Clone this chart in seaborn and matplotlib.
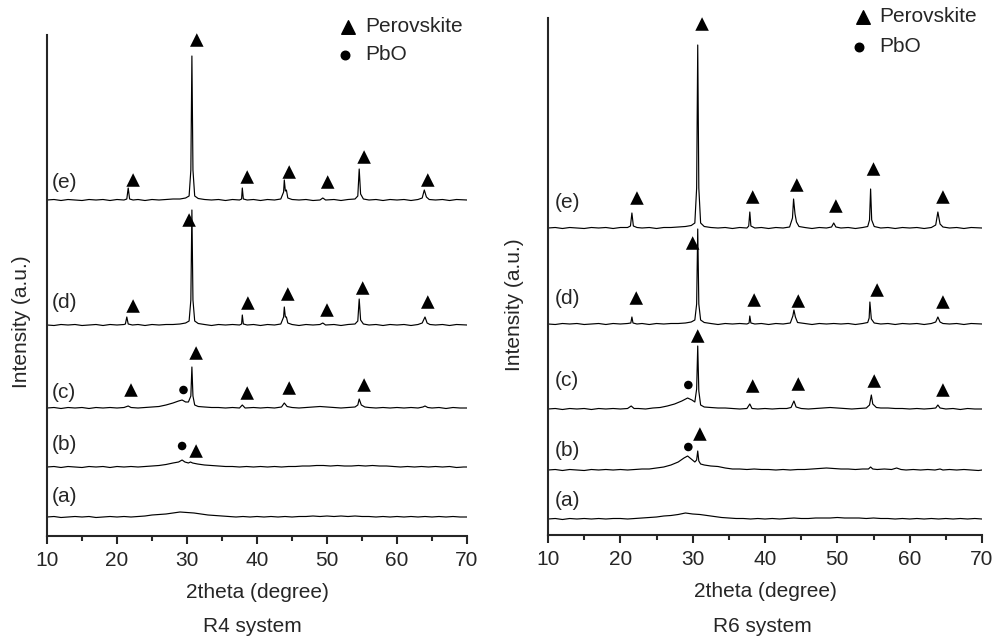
import matplotlib
matplotlib.use("Agg")
import matplotlib.pyplot as plt
import pandas as pd
import seaborn as sns

SAMPLE_LABELS = ["(a)", "(b)", "(c)", "(d)", "(e)"]

# stacking offsets of the five patterns (a)..(e)
R4_OFFSETS = [19, 69, 128, 211, 336]
R6_OFFSETS = [16, 65, 126, 211, 307]

# (2theta, intensity), R4 system
R4_A = [(10, 0), (11, 0.5), (12, -0.5), (13, 0), (14, 0.5), (15, 0), (16, 0.5), (17, -0.5), (18, 0), (19, 0.5),
        (20, 0), (21, 0.5), (22, 0), (23, 0.5), (24, 1), (25, 2), (26, 2.5), (27, 3), (28, 4), (29, 5), (30, 4.5),
        (31, 4), (32, 3), (33, 2), (34, 1.5), (35, 1), (36, 0.5), (37, 0), (38, 0.5), (39, 0), (40, 0.5), (41, 0),
        (42, 0.5), (43, 0), (44, 0.5), (45, 0), (46, 0.5), (47, 0.5), (48, 1), (49, 0.5), (50, 1), (51, 0.5),
        (52, 1), (53, 0.5), (54, 1), (55, 0.5), (56, 0.5), (57, 0), (58, 0.5), (59, 0), (60, 0.5), (61, 0),
        (62, 0.5), (63, 0), (64, 0.5), (65, 0), (66, 0.5), (67, 0), (68, 0.5), (69, 0), (70, 0)]
R4_B = [(10, 0), (11, 0.5), (12, -0.5), (13, 0.5), (14, 0), (15, -0.5), (16, 0.5), (17, 0), (18, 0.5), (19, -0.5),
        (20, 0.5), (21, 0), (22, 0.5), (23, 0), (24, 0.5), (25, 1), (26, 1.5), (27, 2.5), (28, 4), (28.8, 5),
        (29.3, 7), (29.7, 5), (30.2, 4), (30.5, 5), (30.8, 4), (31.5, 3), (32.5, 2), (33.5, 1.5), (34.5, 1),
        (35.5, 0.5), (36.5, 0.5), (37.5, 0), (38.5, 0.5), (39.5, 0), (40.5, 0.5), (41.5, 0), (42.5, 0.5), (43.5, 0),
        (44.5, 0.5), (45.5, 0.5), (46.5, 1), (47.5, 1), (48.5, 1.5), (49.5, 1.5), (50.5, 1), (51.5, 1.5), (52.5, 1),
        (53.5, 1), (54.5, 1.5), (55.5, 1), (56.5, 1.5), (57.5, 1), (58.5, 1), (59.5, 0.5), (60.5, 0), (61.5, 0.5),
        (62.5, 0), (63.5, 0.5), (64.5, 0), (65.5, 0.5), (66.5, 0), (67.5, 0.5), (68.5, -0.5), (69.5, 0), (70, 0)]
R4_C = [(10, 0), (11, 0.5), (12, -0.5), (13, 0.5), (14, 0), (15, 0.5), (16, -0.5), (17, 0.5), (18, 0), (19, 0.5),
        (20, 0), (21, 0.5), (21.6, 2), (22, 0.5), (23, 0), (24, 0.5), (25, 1), (26, 1.5), (27, 3), (28, 5),
        (28.8, 7), (29.3, 8), (29.8, 6), (30.2, 6), (30.55, 12), (30.7, 41), (30.85, 12), (31.1, 3), (31.6, 1.5),
        (32.5, 1), (33.5, 0.5), (34.5, 0.5), (35.5, 0), (36.5, 0.5), (37.5, 0), (37.9, 3), (38.3, 0), (39.5, 0.5),
        (40.5, 0), (41.5, 0.5), (42.5, 0), (43.5, 1), (43.9, 5), (44.3, 1.5), (45, 0.5), (46, 0), (47, 0.5),
        (48, 1), (49, 1.5), (50, 1), (51, 0.5), (52, 0), (53, 0.5), (54, 1), (54.4, 3), (54.6, 9), (54.9, 3),
        (55.4, 1), (56, 0.5), (57, 0), (58, 0.5), (59, 0), (60, 0.5), (61, 0), (62, 0.5), (63, 0), (63.7, 1),
        (64, 2), (64.4, 0.5), (65, 0), (66, 0.5), (67, -0.5), (68, 0.5), (69, 0), (70, 0)]
R4_D = [(10, 0), (11, -0.5), (12, 0.5), (13, 0), (14, 0.5), (15, -0.5), (16, 0), (17, 0.5), (18, -0.5), (19, 0.5),
        (20, 0), (21, 0.5), (21.2, 1), (21.4, 8), (21.6, 1), (22.2, 0), (23, 0.5), (24, -0.5), (25, 0.5), (26, 0),
        (27, 0.5), (28, 0.5), (29, 1), (29.8, 2), (30.3, 4), (30.55, 25), (30.7, 115), (30.85, 25), (31.1, 4),
        (31.6, 1.5), (32.5, 0.5), (33.5, -0.5), (34.5, 0.5), (35.5, 0), (36.5, 0.5), (37.5, 0), (37.8, 1),
        (37.9, 10), (38.05, 1), (38.6, 0), (39.5, 0.5), (40.5, -0.5), (41.5, 0.5), (42.5, 0), (43.4, 1), (43.8, 8),
        (43.9, 18), (44.05, 8), (44.2, 8), (44.4, 2), (45, 0.5), (46, -0.5), (47, 0.5), (48, 0), (49, 0.5),
        (49.4, 2), (49.8, 0), (51, 0.5), (52, -0.5), (53, 0.5), (54, 1), (54.4, 4), (54.6, 26), (54.8, 5),
        (55.2, 1), (56, 0), (57, 0.5), (58, -0.5), (59, 0.5), (60, 0), (61, 0.5), (62, -0.5), (63, 0.5),
        (63.6, 2), (64.0, 8), (64.3, 2), (64.7, 0.5), (65.5, 0), (66.5, 0.5), (67.5, -0.5), (68.5, 0.5), (70, 0)]
R4_E = [(10, 0), (11, 0.5), (12, -0.5), (13, 0.5), (14, 0), (15, -0.5), (16, 0.5), (17, 0), (18, 0.5), (19, -0.5),
        (20, 0.5), (21, 0), (21.4, 1), (21.6, 12), (21.8, 1), (22.3, 0), (23, 0.5), (24, -0.5), (25, 0.5), (26, 0),
        (27, 0.5), (28, 1), (29, 1), (29.8, 2), (30.3, 4), (30.55, 30), (30.7, 144), (30.85, 30), (31.1, 4),
        (31.6, 1.5), (32.5, 0.5), (33.5, 0), (34.5, 0.5), (35.5, -0.5), (36.5, 0.5), (37.5, 0), (37.8, 1),
        (37.9, 12), (38.05, 1), (38.6, 0), (39.5, 0.5), (40.5, -0.5), (41.5, 0.5), (42.5, 0), (43.4, 1), (43.8, 8),
        (43.9, 20), (44.05, 9), (44.2, 10), (44.4, 2), (45, 0.5), (46, 0), (47, 0.5), (48, -0.5), (49, 0),
        (49.4, 2), (49.8, 0), (51, 0.5), (52, -0.5), (53, 0.5), (54, 1), (54.4, 4), (54.6, 31), (54.8, 6),
        (55.2, 1), (56, 0), (57, 0.5), (58, -0.5), (59, 0.5), (60, 0), (61, 0.5), (62, -0.5), (63, 0.5),
        (63.6, 2), (63.9, 10), (64.2, 3), (64.6, 0.5), (65.5, 0), (66.5, 0.5), (67.5, -0.5), (68.5, 0.5), (70, 0)]

# R6 system
R6_A = [(10, 0), (11, 0.5), (12, -0.5), (13, 0.5), (14, 0), (15, 0.5), (16, 0), (17, 0.5), (18, 0), (19, 0.5),
        (20, 0.5), (21, 0), (22, 0.5), (23, 1), (24, 1.5), (25, 2), (26, 3), (27, 3.5), (28, 4.5), (29, 6),
        (30, 5), (31, 4.5), (32, 3.5), (33, 2.5), (34, 1.5), (35, 1), (36, 0.5), (37, 0.5), (38, 0), (39, 0.5),
        (40, 0), (41, 0.5), (42, 0), (43, 0.5), (44, 1), (45, 0.5), (46, 0.5), (47, 1), (48, 1), (49, 1),
        (50, 1.5), (51, 1), (52, 1), (53, 1), (54, 0.5), (55, 1), (56, 0.5), (57, 0.5), (58, 0), (59, 0.5),
        (60, 0), (61, 0.5), (62, 0), (63, 0.5), (64, 0), (65, 0.5), (66, 0), (67, 0.5), (68, 0), (69, 0.5), (70, 0)]
R6_B = [(10, 0), (11, 0.5), (12, -0.5), (13, 0.5), (14, 0), (15, -0.5), (16, 0.5), (17, 0), (18, 0.5), (19, 0),
        (20, 0.5), (21, 0), (22, 0.5), (23, 1), (24, 1), (25, 2), (26, 3), (27, 5), (28, 8), (28.8, 12),
        (29.3, 14), (29.8, 11), (30.3, 8), (30.55, 10), (30.7, 19), (30.85, 9), (31.1, 6), (31.6, 5), (32.5, 4),
        (33.5, 3.5), (34.5, 2), (35.5, 1), (36.5, 1), (37.5, 0.5), (38.5, 1), (39.5, 0.5), (40.5, 0.5), (41.5, 0),
        (42.5, 0.5), (43.5, 0), (44.5, 0.5), (45.5, 0.5), (46.5, 1), (47.5, 1.5), (48.5, 2), (49.5, 1.5),
        (50.5, 1), (51.5, 1), (52.5, 0.5), (53.5, 1), (54.3, 1), (54.6, 3), (54.9, 1), (55.5, 0.5), (56.5, 1),
        (57.5, 0.5), (58.2, 2), (58.8, 0.5), (59.5, 0), (60.5, 0.5), (61.5, 0), (62.5, 0.5), (63.5, 0),
        (64.2, 1), (64.6, 0), (65.5, 0.5), (66.5, 0), (67.5, 0.5), (68.5, 0), (69.5, -0.5), (70, 0)]
R6_C = [(10, 0), (11, 0.5), (12, -0.5), (13, 0.5), (14, 0), (15, 0.5), (16, -0.5), (17, 0.5), (18, 0), (19, 0.5),
        (20, 0), (21, 0.5), (21.5, 3), (21.9, 0.5), (22.5, 0.5), (23.5, 0), (24.5, 1), (25.5, 1.5), (26.5, 3),
        (27.5, 5), (28.5, 8), (29.3, 11), (29.9, 9), (30.3, 7), (30.55, 20), (30.7, 63), (30.85, 18), (31.1, 4),
        (31.6, 2), (32.5, 1.5), (33.5, 1), (34.5, 1), (35.5, 0.5), (36.5, 0), (37.5, 0.5), (37.9, 5), (38.2, 0.5),
        (39, 0), (40, 0.5), (41, 0), (42, 0.5), (43, 0.5), (43.6, 1.5), (44.0, 8), (44.3, 2), (45, 0.5), (46, 0),
        (47, 0.5), (48, 1), (49, 1.5), (50, 1), (51, 0.5), (52, 0), (53, 0.5), (54, 1), (54.45, 4), (54.7, 14),
        (54.9, 5), (55.4, 1.5), (56, 1), (57, 1), (58, 0.5), (59, 0.5), (60, 0), (61, 0.5), (62, 0), (63, 0.5),
        (63.6, 1), (63.9, 4), (64.2, 1), (65, 0), (66, 0.5), (67, -0.5), (68, 0.5), (69, 0), (70, 0)]
R6_D = [(10, 0), (11, -0.5), (12, 0.5), (13, 0), (14, 0.5), (15, -0.5), (16, 0), (17, 0.5), (18, -0.5), (19, 0.5),
        (20, 0), (21, 0.5), (21.45, 1), (21.6, 7), (21.75, 1), (22.3, 0), (23, 0.5), (24, -0.5), (25, 0.5), (26, 0),
        (27, 0.5), (28, 0.5), (29, 1), (29.8, 2), (30.3, 4), (30.55, 20), (30.7, 95), (30.85, 20), (31.1, 4),
        (31.6, 1.5), (32.5, 0.5), (33.5, -0.5), (34.5, 0.5), (35.5, 0), (36.5, 0.5), (37.5, 0), (37.8, 1),
        (37.9, 8), (38.05, 1), (38.6, 0), (39.5, 0.5), (40.5, -0.5), (41.5, 0.5), (42.5, 0), (43.5, 1), (43.85, 8),
        (44.0, 14), (44.2, 7), (44.5, 1.5), (45.5, 0.5), (46.5, -0.5), (47.5, 0.5), (48.5, 0), (49.5, 0.5),
        (50.5, 0), (51.5, 0.5), (52.5, -0.5), (53.5, 0.5), (54.2, 1.5), (54.4, 6), (54.5, 22), (54.7, 5),
        (55.1, 1), (56, 0), (57, 0.5), (58, -0.5), (59, 0.5), (60, 0), (61, 0.5), (62, -0.5), (63, 0.5),
        (63.6, 2), (63.9, 7), (64.2, 2), (64.6, 0.5), (65.5, 0), (66.5, 0.5), (67.5, -0.5), (68.5, 0.5), (70, 0)]
R6_E = [(10, 0), (11, 0.5), (12, -0.5), (13, 0.5), (14, 0), (15, -0.5), (16, 0.5), (17, 0), (18, 0.5), (19, -0.5),
        (20, 0.5), (21, 0.5), (21.4, 2), (21.6, 15), (21.8, 2), (22.3, 0.5), (23, 0), (24, 0.5), (25, -0.5),
        (26, 0.5), (27, 0.5), (28, 1), (29, 1.5), (29.8, 2.5), (30.3, 5), (30.55, 40), (30.7, 183), (30.85, 40),
        (31.1, 5), (31.6, 1.5), (32.5, 0.5), (33.5, 0), (34.5, 0.5), (35.5, -0.5), (36.5, 0.5), (37.5, 0),
        (37.75, 2), (37.9, 16), (38.05, 2), (38.6, 0), (39.5, 0.5), (40.5, -0.5), (41.5, 0.5), (42.5, 0),
        (43.4, 1), (43.8, 10), (43.95, 29), (44.15, 14), (44.35, 6), (44.7, 1.5), (45.5, 0.5), (46.5, -0.5),
        (47.5, 0.5), (48.5, 0), (49.2, 1), (49.5, 5), (49.8, 1), (50.5, 0), (51.5, 0.5), (52.5, -0.5), (53.5, 0.5),
        (54.2, 1.5), (54.45, 8), (54.6, 39), (54.75, 8), (55.1, 1.5), (56, 0), (57, 0.5), (58, -0.5), (59, 0.5),
        (60, 0), (61, 0.5), (62, -0.5), (63, 0.5), (63.6, 3), (63.9, 16), (64.2, 4), (64.6, 1), (65.5, 0),
        (66.5, 0.5), (67.5, -0.5), (68.5, 0.5), (70, 0)]

# phase markers (2theta, height on the stacked scale)
R4_PEROVSKITE = [(22.3, 356), (31.4, 496), (38.6, 359), (44.6, 364), (50.1, 354), (55.3, 379), (64.4, 356),
                 (22.3, 230), (30.3, 316), (38.7, 233), (44.4, 242), (50.0, 226), (55.1, 248), (64.4, 234),
                 (22.0, 146), (31.3, 183), (38.6, 143), (44.6, 148), (55.3, 151),
                 (31.3, 85)]
R4_PBO = [(29.5, 146), (29.3, 90)]
R6_PEROVSKITE = [(22.3, 337), (31.3, 511), (38.3, 338), (44.4, 350), (49.8, 329), (55.0, 366), (64.6, 338),
                 (22.2, 237), (30.0, 292), (38.5, 235), (44.6, 234), (55.5, 245), (64.6, 233),
                 (30.7, 199), (38.3, 149), (44.6, 151), (55.1, 154), (64.6, 145),
                 (31.0, 101)]
R6_PBO = [(29.4, 150), (29.4, 88)]

PHASE_NAMES = ["Perovskite", "PbO"]

sns.set_style("ticks")
plt.rcParams["font.family"] = ["Liberation Sans", "DejaVu Sans"]
plt.rcParams["font.size"] = 15

W, H = 992, 638


def draw_panel(ax, patterns, offsets, markers_tri, markers_dot, cfg):
    for pattern, offset in zip(patterns, offsets):
        df = pd.DataFrame(pattern, columns=["two_theta", "intensity"])
        df["stacked"] = df["intensity"] + offset
        sns.lineplot(data=df, x="two_theta", y="stacked", ax=ax, color="black",
                     linewidth=0.85, estimator=None, sort=False, legend=False)

    tri = pd.DataFrame(markers_tri, columns=["two_theta", "y"])
    dot = pd.DataFrame(markers_dot, columns=["two_theta", "y"])
    sns.scatterplot(data=tri, x="two_theta", y="y", ax=ax, marker="^", s=95,
                    color="black", edgecolor="none", clip_on=False, legend=False)
    sns.scatterplot(data=dot, x="two_theta", y="y", ax=ax, marker="o", s=38,
                    color="black", edgecolor="none", clip_on=False, legend=False)

    # hand-made key in the top right corner
    lx, ly_tri, ly_dot, tx = cfg["key"]
    ax.scatter([lx], [ly_tri], marker="^", s=95, color="black", clip_on=False)
    ax.scatter([lx - 0.5], [ly_dot], marker="o", s=38, color="black", clip_on=False)
    ax.text(tx, ly_tri, PHASE_NAMES[0], va="center", ha="left")
    ax.text(tx, ly_dot, PHASE_NAMES[1], va="center", ha="left")

    for label, y in zip(SAMPLE_LABELS, cfg["label_y"]):
        ax.text(cfg["label_x"], y, label, va="center", ha="left")

    ax.set_xlim(10, 70)
    ax.set_ylim(0, cfg["ytop"])
    ax.set_xticks(range(10, 71, 10))
    ax.set_xticks(range(15, 70, 10), minor=True)
    ax.set_yticks([])
    ax.tick_params(axis="x", which="major", direction="out", length=6, width=1.5, pad=5, labelsize=15)
    ax.tick_params(axis="x", which="minor", direction="out", length=3.5, width=1.5)
    for side in ["top", "right"]:
        ax.spines[side].set_visible(False)
    ax.spines["left"].set_bounds(0, cfg["spine_top"])
    ax.spines["left"].set_linewidth(1.5)
    ax.spines["bottom"].set_linewidth(1.5)

    ax.set_xlabel("2theta (degree)", fontsize=15)
    ax.xaxis.label.set_va("center")
    ax.xaxis.set_label_coords(0.5, cfg["xlabel_y"])
    ax.set_ylabel("Intensity (a.u.)", fontsize=15)
    ax.yaxis.label.set_va("center")
    ax.yaxis.set_label_coords(*cfg["ylabel_xy"])
    ax.text(cfg["title_xy"][0], cfg["title_xy"][1], cfg["title"], transform=ax.transAxes,
            ha="center", va="center", fontsize=15)


fig = plt.figure(figsize=(W / 100, H / 100), dpi=100)
ax_left = fig.add_axes([47 / W, (H - 536) / H, 420 / W, 526 / H])
ax_right = fig.add_axes([548 / W, (H - 535) / H, 434 / W, 525 / H])

draw_panel(ax_left, [R4_A, R4_B, R4_C, R4_D, R4_E], R4_OFFSETS, R4_PEROVSKITE, R4_PBO, {
    "key": (53.0, 509, 481, 55.4),
    "label_x": 10.7,
    "label_y": [40, 91, 144, 234, 354],
    "ytop": 526,
    "spine_top": 501,
    "xlabel_y": -0.108,
    "ylabel_xy": (-0.060, 0.407),
    "title": "R4 system",
    "title_xy": (0.488, -0.173),
})
draw_panel(ax_right, [R6_A, R6_B, R6_C, R6_D, R6_E], R6_OFFSETS, R6_PEROVSKITE, R6_PBO, {
    "key": (53.55, 518, 488, 55.8),
    "label_x": 11.0,
    "label_y": [35, 85, 154, 236, 333],
    "ytop": 525,
    "spine_top": 517,
    "xlabel_y": -0.107,
    "ylabel_xy": (-0.078, 0.438),
    "title": "R6 system",
    "title_xy": (0.495, -0.175),
})

fig.savefig("out.png", dpi=100)
